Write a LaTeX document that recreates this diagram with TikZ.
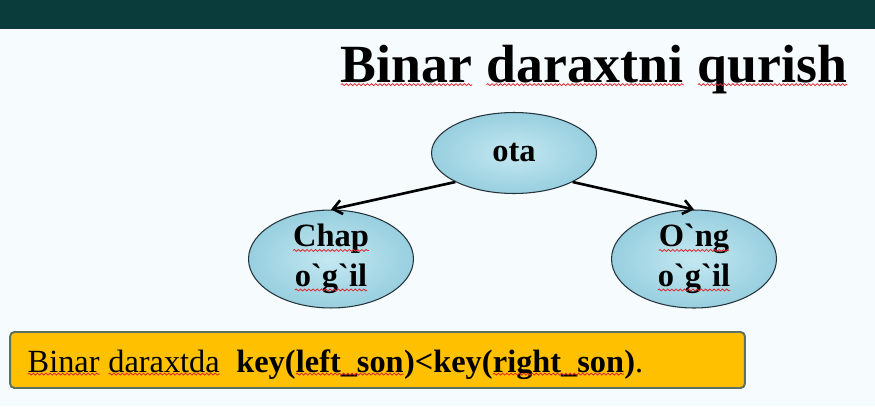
\documentclass[tikz,border=0pt]{standalone}
\usepackage{fontspec}
\setmainfont{Liberation Serif}
\usetikzlibrary{shapes.geometric,arrows.meta,decorations.pathmorphing}

\definecolor{barteal}{HTML}{0B3C3C}
\definecolor{bgpale}{HTML}{F6FBFE}
\definecolor{leafin}{HTML}{C4E8F1}
\definecolor{leafout}{HTML}{98CFDF}
\definecolor{leafline}{HTML}{24343C}
\definecolor{noteamber}{HTML}{FFC000}
\definecolor{noteline}{HTML}{5E7060}
\definecolor{spellred}{HTML}{E0282C}

% red wavy spell-check line under a word
\newcommand{\spell}[2][2pt]{\tikz[baseline=(w.base)]{%
  \node[shape=rectangle,draw=none,fill=none,inner sep=0pt,outer sep=0pt,minimum width=0pt,minimum height=0pt,anchor=base] (w) {#2};%
  \draw[spellred,line width=0.45pt,decorate,decoration={snake,amplitude=0.55pt,segment length=2.4pt}] ([yshift=-#1]w.base west) -- ([yshift=-#1]w.base east);}}

\tikzset{
  leaf/.style={ellipse, draw=leafline, line width=0.6pt, inner color=leafin, outer color=leafout,
    minimum width=3.3cm, minimum height=1.62cm, inner sep=0pt, align=center,
    font=\fontsize{18.5}{22.5}\selectfont\bfseries},
  edge/.style={line width=1.5pt, -{Straight Barb[length=5pt,width=8pt]}},
  notebox/.style={rectangle, rounded corners=2.5pt, draw=noteline, line width=1.1pt, fill=noteamber,
    minimum width=14.7cm, minimum height=1.12cm},
}

\begin{document}
\begin{tikzpicture}[x=0.02cm, y=-0.02cm]
  \useasboundingbox (0,0) rectangle (875,406);
  \fill[bgpale] (0,0) rectangle (875,406);
  \fill[barteal] (0,0) rectangle (875,29);

  \node (title) at (848,82) [anchor=base east, inner sep=0pt, font=\fontsize{30.6}{36}\selectfont\bfseries]
    {\spell[1.5pt]{Binar} \spell[1.5pt]{daraxtni} \spell[1.5pt]{qurish}};

  \node (ota) at (514,153) [leaf] {ota};
  \node (chap) at (331,259) [leaf] {\spell{Chap}\\\spell{o\textasciigrave g\textasciigrave il}};
  \node (ong) at (694,259) [leaf] {\spell{O\textasciigrave ng}\\\spell{o\textasciigrave g\textasciigrave il}};

  \draw[edge] (ota.south west) -- (chap.north);
  \draw[edge] (ota.south east) -- (ong.north);

  \node (note) at (377.5,360) [notebox] {};
  \node (rule) at (27,372) [anchor=base west, inner sep=0pt, font=\fontsize{18.4}{22}\selectfont]
    {\spell[1.2pt]{Binar} \spell[1.2pt]{daraxtda}\ \ \textbf{key(\spell[1.2pt]{left\_son})<key(\spell[1.2pt]{right\_son})}.};
\end{tikzpicture}
\end{document}
